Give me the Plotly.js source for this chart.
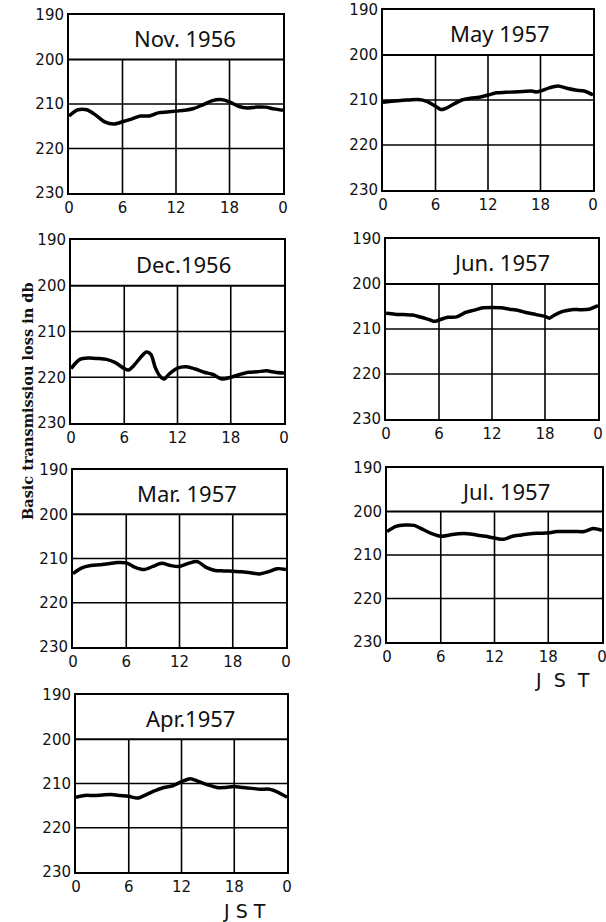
<!DOCTYPE html>
<html>
<head>
<meta charset="utf-8">
<script src="https://cdn.plot.ly/plotly-3.0.1.min.js"></script>
<style>html,body{margin:0;padding:0;background:#fff;}#chart{width:606px;height:922px;}</style>
</head>
<body>
<div id="chart"></div>
<script>
// ---- data ----
const panelTitles = ["Nov. 1956", "May 1957", "Dec.1956", "Jun. 1957", "Mar. 1957", "Jul. 1957", "Apr.1957"];
const hours = [0,1,2,3,4,5,6,7,8,9,10,11,12,13,14,15,16,17,18,19,20,21,22,23,24];
const xTickVals = [0, 6, 12, 18, 24];
const xTickText = ["0", "6", "12", "18", "0"];
const yTickVals = [190, 200, 210, 220, 230];
const yTickText = ["190", "200", "210", "220", "230"];

const novLoss = [212.7,211.3,211.3,212.5,214.0,214.5,214.0,213.4,212.7,212.7,212.0,211.8,211.6,211.4,211.0,210.2,209.3,209.0,209.5,210.5,210.9,210.7,210.7,211.1,211.4];

const mayHours = [0,1,2,3,4,5,6,6.6,7,8,9,10,11,12,13,14,15,16,17,17.5,18,19,20,21,22,23,24];
const mayLoss = [210.5,210.3,210.1,210.0,209.9,210.3,211.4,212.1,212.0,211.0,210.0,209.6,209.4,208.9,208.4,208.3,208.2,208.1,208.0,208.2,208.0,207.3,206.9,207.4,207.8,208.0,208.9];

const decHours = [0,1,2,3,4,5,6,6.5,7,8,8.5,9,9.5,10,10.5,11,12,13,14,15,16,17,18,19,20,21,22,23,24];
const decLoss = [218.1,216.1,215.8,215.9,216.1,216.8,218.1,218.4,217.6,215.3,214.5,215.0,217.9,219.7,220.4,219.4,218.0,217.7,218.2,218.9,219.4,220.4,220.0,219.4,218.9,218.8,218.6,218.9,219.1];

const junHours = [0,1,2,3,4,5,5.5,6,7,8,9,10,11,12,13,14,15,16,17,18,18.5,19,20,21,22,23,24];
const junLoss = [206.5,206.7,206.8,206.9,207.4,208.0,208.3,208.0,207.4,207.3,206.3,205.8,205.3,205.2,205.3,205.6,205.9,206.4,206.8,207.2,207.6,207.0,206.1,205.7,205.7,205.6,204.8];

const marLoss = [213.4,212.1,211.6,211.4,211.2,210.9,211.0,212.0,212.5,211.8,211.1,211.6,211.8,211.1,210.7,212.0,212.7,212.8,212.9,213.0,213.2,213.5,213.0,212.3,212.5];

const julLoss = [204.6,203.4,203.1,203.2,204.1,205.1,205.7,205.4,205.1,205.1,205.4,205.7,206.1,206.4,205.7,205.4,205.1,205.0,204.9,204.6,204.6,204.6,204.6,203.9,204.3];

const aprLoss = [213.1,212.7,212.7,212.6,212.5,212.7,212.9,213.3,212.5,211.6,210.9,210.5,209.6,208.9,209.6,210.3,210.9,210.9,210.7,210.9,211.1,211.3,211.3,212.0,213.1];

const seriesX = [hours, mayHours, decHours, junHours, hours, hours, hours];
const seriesY = [novLoss, mayLoss, decLoss, junLoss, marLoss, julLoss, aprLoss];

// ---- layout geometry (pixels in the 606x922 page) ----
const W = 606, H = 922;
const boxes = [
  {l: 69,  r: 283, t: 15,  b: 193},
  {l: 383, r: 593, t: 10,  b: 190},
  {l: 71,  r: 284, t: 240, b: 423},
  {l: 386, r: 598, t: 239, b: 419},
  {l: 73,  r: 286, t: 470, b: 647},
  {l: 387, r: 602, t: 468, b: 642},
  {l: 76,  r: 287, t: 695, b: 872}
];
const titleHour = [13.0, 13.4, 12.7, 13.1, 12.8, 13.2, 13.0];

const tickFont = {family: "DejaVu Sans", size: 15, color: "#111"};
const traces = [];
const layout = {
  width: W, height: H,
  margin: {l: 0, r: 0, t: 0, b: 0},
  paper_bgcolor: "#fff", plot_bgcolor: "#fff",
  showlegend: false,
  shapes: [], annotations: []
};

boxes.forEach((bx, i) => {
  const n = i + 1;
  const xa = n === 1 ? "xaxis" : "xaxis" + n;
  const ya = n === 1 ? "yaxis" : "yaxis" + n;
  const xr = n === 1 ? "x" : "x" + n;
  const yr = n === 1 ? "y" : "y" + n;
  traces.push({
    type: "scatter", mode: "lines",
    x: seriesX[i], y: seriesY[i],
    xaxis: xr, yaxis: yr,
    line: {color: "#000", width: 3.5, shape: "spline", smoothing: 0.8},
    hoverinfo: "skip"
  });
  layout[xa] = {
    domain: [bx.l / W, bx.r / W], anchor: yr,
    range: [0, 24], tickvals: xTickVals, ticktext: xTickText,
    showgrid: false, zeroline: false, showline: true, mirror: true,
    linecolor: "#000", linewidth: 2, ticks: "", tickfont: tickFont, fixedrange: true,
    ticklabeloverflow: "allow"
  };
  layout[ya] = {
    domain: [1 - bx.b / H, 1 - bx.t / H], anchor: xr,
    range: [230, 190], tickvals: yTickVals, ticktext: yTickText,
    showgrid: false, zeroline: false, showline: true, mirror: true,
    linecolor: "#000", linewidth: 2, ticks: "", tickfont: tickFont, fixedrange: true,
    ticklabeloverflow: "allow"
  };
  [200, 210, 220].forEach(v => {
    layout.shapes.push({type: "line", xref: xr, yref: yr, x0: 0, x1: 24, y0: v, y1: v,
      line: {color: "#000", width: v === 200 ? 2 : 1.6}});
  });
  [6, 12, 18].forEach(v => {
    layout.shapes.push({type: "line", xref: xr, yref: yr, x0: v, x1: v, y0: 200, y1: 230,
      line: {color: "#000", width: 1.6}});
  });
  layout.annotations.push({
    xref: xr, yref: yr, x: titleHour[i], y: 195.2, text: panelTitles[i], showarrow: false,
    font: {family: "Noto Sans", size: 22, color: "#111"}, xanchor: "center", yanchor: "middle"
  });
});

layout.annotations.push({
  xref: "paper", yref: "paper", x: 27 / W, y: 1 - 401 / H,
  text: "Basic transmissiou loss in db", textangle: -90, showarrow: false,
  font: {family: "DejaVu Serif", size: 14.5, color: "#111", weight: "bold"},
  xanchor: "center", yanchor: "middle"
});
layout.annotations.push({
  xref: "paper", yref: "paper", x: 562 / W, y: 1 - 680 / H,
  text: "J  S  T", showarrow: false,
  font: {family: "DejaVu Sans", size: 19, color: "#111"}, xanchor: "center", yanchor: "middle"
});
layout.annotations.push({
  xref: "paper", yref: "paper", x: 244 / W, y: 1 - 911 / H,
  text: "J S T", showarrow: false,
  font: {family: "DejaVu Sans", size: 19, color: "#111"}, xanchor: "center", yanchor: "middle"
});

Plotly.newPlot("chart", traces, layout, {displayModeBar: false, staticPlot: true});
</script>
</body>
</html>
